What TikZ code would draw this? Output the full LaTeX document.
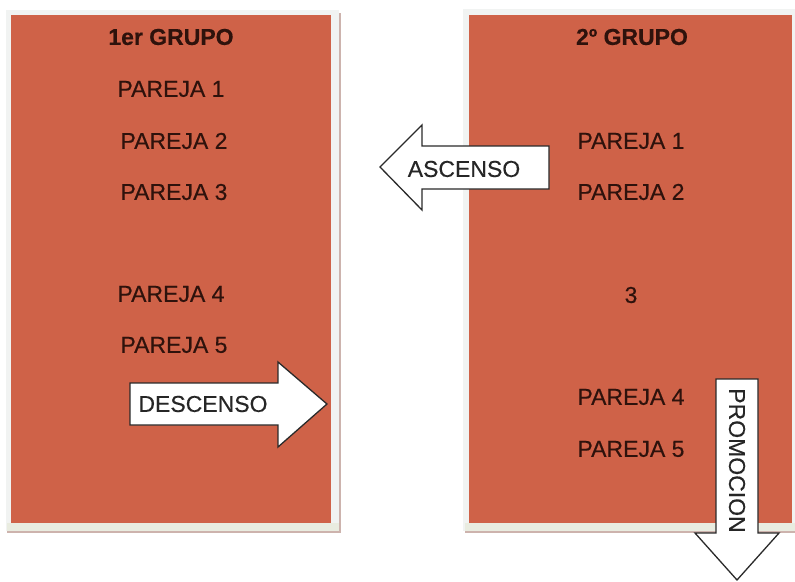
\documentclass[tikz,border=0pt]{standalone}
\usepackage{fontspec}
\setmainfont{Liberation Sans}[FakeBold=0.35]
\definecolor{panelfill}{HTML}{CF6248}
\definecolor{frameedge}{HTML}{F1F3F2}
\definecolor{framestrip}{HTML}{E9ECE0}
\definecolor{frameshade}{HTML}{CDB3AD}
\definecolor{labelink}{HTML}{2E120C}
\definecolor{arrowline}{HTML}{2A2A2A}
\tikzset{
  panel/.style={fill=panelfill,draw=none},
  panelframe/.style={fill=frameedge,draw=none},
  panelstrip/.style={fill=framestrip,draw=none},
  panelshade/.style={fill=frameshade,draw=none},
  lab/.style={font=\fontsize{23}{26}\selectfont,text=labelink,inner sep=0pt,anchor=center},
  head/.style={lab,font=\fontsize{23}{26}\selectfont\bfseries},
  blockarrow/.style={fill=white,draw=arrowline,line width=1.3pt,line join=miter},
  arrowlab/.style={font=\fontsize{23}{26}\selectfont,text=black!85,inner sep=0pt,anchor=center},
}
\begin{document}
\begin{tikzpicture}[x=1pt,y=-1pt]
\useasboundingbox (0,0) rectangle (795,581);
\fill[white] (0,0) rectangle (795,581);
% left panel
\fill[panelshade] (7,13) rectangle (341,533);
\fill[panelframe] (6,10) rectangle (339,531);
\fill[panelstrip] (7,523) rectangle (339,531);
\fill[panel] (11,15) rectangle (331,523);
% right panel
\fill[panelshade] (465,13) rectangle (795,533);
\fill[panelframe] (463,9) rectangle (795,531);
\fill[panelstrip] (465,523) rectangle (795,531);
\fill[panel] (469,15) rectangle (792,523);
% left labels
\node[head] (l0) at (171,37) {1er GRUPO};
\node[lab] (l1) at (171,89) {PAREJA 1};
\node[lab] (l2) at (174,141) {PAREJA 2};
\node[lab] (l3) at (174,192) {PAREJA 3};
\node[lab] (l4) at (171,294) {PAREJA 4};
\node[lab] (l5) at (174,345) {PAREJA 5};
% right labels
\node[head] (r0) at (632,37) {2º GRUPO};
\node[lab] (r1) at (631,141) {PAREJA 1};
\node[lab] (r2) at (631,192) {PAREJA 2};
\node[lab] (r3) at (631,295) {3};
\node[lab] (r4) at (631,397) {PAREJA 4};
\node[lab] (r5) at (631,449) {PAREJA 5};
% arrows
\draw[blockarrow] (130,383) -- (278,383) -- (278,362) -- (327,404) -- (278,447) -- (278,425) -- (130,425) -- cycle;
\node[arrowlab] (desc) at (203,404) {DESCENSO};
\draw[blockarrow] (549,146) -- (422,146) -- (422,125) -- (380,167) -- (422,210) -- (422,189) -- (549,189) -- cycle;
\node[arrowlab] (asc) at (464,169) {ASCENSO};
\draw[blockarrow] (716,379) -- (758,379) -- (758,533) -- (779,533) -- (737,580) -- (695,533) -- (716,533) -- cycle;
\node[arrowlab,rotate=-90] (prom) at (737,460.5) {PROMOCION};
\end{tikzpicture}
\end{document}
